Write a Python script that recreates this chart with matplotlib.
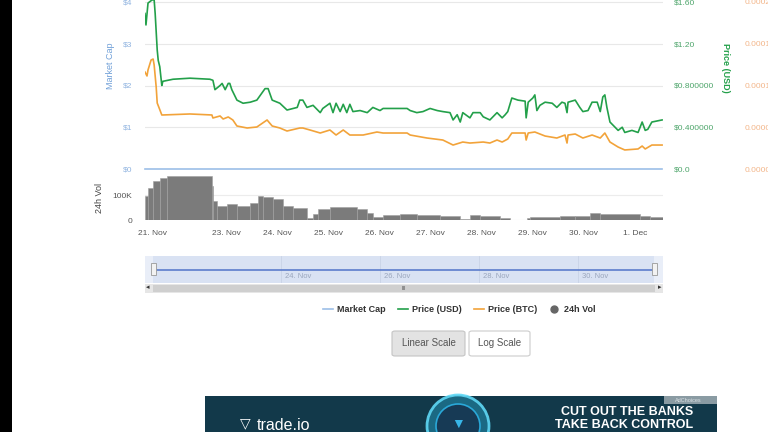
import numpy as np
import matplotlib
matplotlib.use("Agg")
import matplotlib.pyplot as plt
from matplotlib.lines import Line2D
from matplotlib.patches import Rectangle, FancyBboxPatch, Ellipse

plt.rcParams['font.family'] = ['Liberation Sans', 'DejaVu Sans']

W, H = 768, 432

# time in days after 21 Nov 00:00
usd_days = [0.41, 0.43, 0.47, 0.55, 0.59, 0.61, 0.65, 0.67, 0.70, 0.74, 0.76, 0.96, 1.29, 1.68,
            1.74, 1.78, 1.88, 1.92, 1.98, 2.04, 2.07, 2.11, 2.21, 2.33, 2.47, 2.60, 2.76, 2.82,
            2.90, 3.05, 3.19, 3.39, 3.44, 3.50, 3.58, 3.70, 3.84, 3.89, 4.03, 4.09, 4.15, 4.23,
            4.29, 4.36, 4.42, 4.48, 4.62, 4.76, 4.87, 5.01, 5.07, 5.30, 5.54, 5.60, 5.73, 5.85,
            5.99, 6.13, 6.24, 6.38, 6.44, 6.52, 6.58, 6.63, 6.77, 6.83, 6.97, 7.03, 7.16, 7.20,
            7.30, 7.40, 7.46, 7.51, 7.59, 7.71, 7.85, 7.87, 7.91, 8.00, 8.04, 8.08, 8.14, 8.24,
            8.38, 8.47, 8.57, 8.63, 8.67, 8.69, 8.83, 8.92, 8.98, 9.08, 9.16, 9.26, 9.32, 9.37,
            9.41, 9.45, 9.51, 9.57, 9.67, 9.75, 9.80, 9.94, 10.06, 10.14, 10.20, 10.25, 10.33, 10.53]
usd_price = [1.49, 1.38, 1.59, 1.62, 1.62, 1.49, 1.14, 1.04, 0.98, 0.80, 0.84, 0.86, 0.87, 0.86,
             0.85, 0.76, 0.80, 0.82, 0.76, 0.82, 0.82, 0.76, 0.66, 0.63, 0.64, 0.66, 0.77, 0.77,
             0.66, 0.63, 0.565, 0.59, 0.66, 0.66, 0.59, 0.61, 0.54, 0.58, 0.63, 0.54, 0.63, 0.55,
             0.62, 0.54, 0.62, 0.55, 0.56, 0.54, 0.59, 0.56, 0.58, 0.58, 0.58, 0.56, 0.54, 0.55,
             0.58, 0.56, 0.55, 0.54, 0.47, 0.52, 0.45, 0.54, 0.49, 0.54, 0.54, 0.50, 0.47, 0.49,
             0.54, 0.49, 0.52, 0.55, 0.68, 0.66, 0.65, 0.49, 0.64, 0.68, 0.71, 0.56, 0.61, 0.64,
             0.63, 0.59, 0.64, 0.63, 0.54, 0.64, 0.66, 0.59, 0.55, 0.56, 0.64, 0.64, 0.55, 0.69,
             0.71, 0.59, 0.45, 0.42, 0.37, 0.40, 0.35, 0.37, 0.35, 0.45, 0.37, 0.38, 0.45, 0.47]

btc_days = [0.41, 0.45, 0.47, 0.53, 0.57, 0.59, 0.63, 0.65, 0.68, 0.74, 0.76, 1.29, 1.72, 1.74,
            1.88, 1.94, 2.04, 2.13, 2.21, 2.41, 2.60, 2.80, 2.90, 3.05, 3.19, 3.44, 3.50, 3.64,
            3.84, 4.03, 4.15, 4.29, 4.42, 4.68, 4.95, 5.07, 5.54, 5.60, 5.93, 6.24, 6.44, 6.63,
            6.77, 7.03, 7.16, 7.30, 7.40, 7.51, 7.59, 7.85, 7.87, 7.91, 8.04, 8.24, 8.47, 8.63,
            8.67, 8.69, 8.83, 8.98, 9.16, 9.32, 9.41, 9.51, 9.67, 9.80, 10.06, 10.14, 10.20,
            10.33, 10.53]
btc_price = [0.0001162, 0.0001114, 0.0001186, 0.0001305, 0.0001317, 0.0001246, 0.0000982,
             0.0000790, 0.0000743, 0.0000647, 0.0000647, 0.0000659, 0.0000647, 0.0000611,
             0.0000635, 0.0000599, 0.0000623, 0.0000587, 0.0000515, 0.0000491, 0.0000503,
             0.0000587, 0.0000515, 0.0000491, 0.0000455, 0.0000491, 0.0000491, 0.0000467,
             0.0000431, 0.0000467, 0.0000407, 0.0000467, 0.0000407, 0.0000407, 0.0000443,
             0.0000431, 0.0000431, 0.0000407, 0.0000371, 0.0000347, 0.0000287, 0.0000323,
             0.0000311, 0.0000323, 0.0000311, 0.0000347, 0.0000323, 0.0000359, 0.0000431,
             0.0000431, 0.0000347, 0.0000431, 0.0000443, 0.0000395, 0.0000371, 0.0000407,
             0.0000311, 0.0000407, 0.0000419, 0.0000371, 0.0000407, 0.0000371, 0.0000431,
             0.0000323, 0.0000263, 0.0000228, 0.0000240, 0.0000275, 0.0000240, 0.0000287,
             0.0000287]

mcap_days = [0.41, 10.53]
mcap_values = [0, 0]

# volume steps: bar i spans vol_edges[i]..vol_edges[i+1]
vol_edges = [0.41, 0.47, 0.57, 0.70, 0.84, 1.72, 1.74, 1.82, 2.02, 2.21, 2.47, 2.62, 2.72, 2.92,
             3.11, 3.31, 3.58, 3.70, 3.80, 4.03, 4.56, 4.76, 4.87, 5.07, 5.40, 5.73, 6.18, 6.58,
             6.77, 6.97, 7.36, 7.55, 7.89, 7.95, 8.53, 8.83, 9.12, 9.32, 10.10, 10.29, 10.55]
vol_k = [96, 128, 156, 168, 176, 136, 76, 56, 64, 56, 68, 96, 92, 84, 56, 48, 8, 24, 44, 52,
         44, 28, 13, 20, 24, 20, 16, 4, 20, 18, 8, 2, 10, 12, 16, 16, 28, 26, 16, 14]

day_ticks = [0.55, 2, 3, 4, 5, 6, 7, 8, 9, 10]
day_labels = ['21. Nov', '23. Nov', '24. Nov', '25. Nov', '26. Nov', '27. Nov', '28. Nov',
              '29. Nov', '30. Nov', '1. Dec']
mcap_ticks = [0, 1, 2, 3, 4]
mcap_labels = ['$0', '$1', '$2', '$3', '$4']
usd_ticks = [0, 0.4, 0.8, 1.2, 1.6]
usd_labels = ['$0.0', '$0.400000', '$0.800000', '$1.20', '$1.60']
btc_ticks = [0, 0.00005, 0.0001, 0.00015, 0.0002]
btc_labels = ['0.000000', '0.000050', '0.000100', '0.000150', '0.000200']
nav_ticks = [3, 5, 7, 9]
nav_labels = ['24. Nov', '26. Nov', '28. Nov', '30. Nov']

GREEN = '#23a04a'
ORANGE = '#f2a33a'
BLUE = '#9cbfe8'
GRAY = '#7b7b7b'


def frect(x0, y0, x1, y1):
    return [x0 / W, 1 - y1 / H, (x1 - x0) / W, (y1 - y0) / H]


fig = plt.figure(figsize=(7.68, 4.32), dpi=100)
fig.patch.set_facecolor('white')

x_lim = (0.411, 10.548)
scale = 169 / 167

# main pane
ax = fig.add_axes(frect(145, 0, 663, 169))
ax.set_xlim(x_lim)
ax.set_ylim(0, 4 * scale)
ax.set_yticks(mcap_ticks)
ax.set_yticklabels(mcap_labels)
ax.tick_params(axis='y', length=0, pad=9, labelsize=6, labelcolor='#8fb3e0')
ax.set_xticks([])
ax.grid(axis='y', color='#e8e8e8', linewidth=0.8)
for s in ax.spines.values():
    s.set_visible(False)
ax.set_ylabel('Market Cap', color='#6f9fd8', fontsize=6.5)
ax.yaxis.set_label_coords(-0.058, 0.61)
mcap_line, = ax.plot(mcap_days, mcap_values, color=BLUE, linewidth=1.2, clip_on=False)

ax_usd = ax.twinx()
ax_usd.set_ylim(0, 1.6 * scale)
ax_usd.set_yticks(usd_ticks)
ax_usd.set_yticklabels(usd_labels)
ax_usd.tick_params(axis='y', length=0, pad=8, labelsize=6, labelcolor='#4da56a')
ax_usd.set_ylabel('Price (USD)', color=GREEN, fontsize=6.5, fontweight='bold', rotation=270)
ax_usd.yaxis.set_label_coords(1.129, 0.60)
for s in ax_usd.spines.values():
    s.set_visible(False)

ax_btc = ax.twinx()
ax_btc.set_ylim(0, 0.0002 * scale)
ax_btc.set_yticks(btc_ticks)
ax_btc.set_yticklabels(btc_labels)
ax_btc.tick_params(axis='y', length=0, pad=59, labelsize=6, labelcolor='#f3b68a')
for s in ax_btc.spines.values():
    s.set_visible(False)

btc_line, = ax_btc.plot(btc_days, btc_price, color=ORANGE, linewidth=1.2)
usd_line, = ax_usd.plot(usd_days, usd_price, color=GREEN, linewidth=1.2)

# volume pane
axv = fig.add_axes(frect(145, 172, 663, 220))
axv.set_xlim(x_lim)
axv.set_ylim(0, 192000)
axv.bar(vol_edges[:-1], [v * 1000 for v in vol_k], width=np.diff(vol_edges), align='edge',
        color=GRAY, edgecolor='#a0a0a0', linewidth=0.4)
axv.set_yticks([0, 100000])
axv.set_yticklabels(['0', '100K'])
axv.tick_params(axis='y', length=0, pad=9, labelsize=6, labelcolor='#555555')
axv.set_xticks(day_ticks)
axv.set_xticklabels(day_labels)
axv.tick_params(axis='x', length=0, pad=7, labelsize=6, labelcolor='#555555')
axv.grid(axis='y', color='#ececec', linewidth=0.8)
axv.set_axisbelow(True)
for s in axv.spines.values():
    s.set_visible(False)
axv.set_ylabel('24h Vol', color='#444444', fontsize=6.5)
axv.yaxis.set_label_coords(-0.079, 0.45)

# navigator
fig.patches.append(Rectangle((145 / W, 1 - 283 / H), 518 / W, 27 / H, transform=fig.transFigure,
                             facecolor='#e9eef8', edgecolor='none', zorder=-1))
axn = fig.add_axes(frect(153, 256, 654, 283))
axn.set_xlim(mcap_days[0], mcap_days[-1])
axn.set_ylim(-1, 1)
axn.set_facecolor('#d9e2f3')
axn.plot(mcap_days, mcap_values, color='#5b7ccc', linewidth=1.2)
axn.set_yticks([])
axn.set_xticks(nav_ticks)
axn.set_xticklabels([])
axn.grid(axis='x', color='#c9d3e6', linewidth=0.6)
for t, lab in zip(nav_ticks, nav_labels):
    axn.text(t + 0.08, -0.5, lab, fontsize=5.5, color='#9aa6bd', va='center', ha='left')
axn.tick_params(length=0)
for s in axn.spines.values():
    s.set_visible(False)
for hx in (153, 654):
    fig.patches.append(Rectangle(((hx - 2.5) / W, 1 - 275 / H), 5 / W, 12 / H,
                                 transform=fig.transFigure, facecolor='#f2f2f2',
                                 edgecolor='#999999', linewidth=0.6, zorder=5))

# scrollbar
fig.patches.append(Rectangle((145 / W, 1 - 293 / H), 518 / W, 9 / H, transform=fig.transFigure,
                             facecolor='#e6e6e6', edgecolor='none'))
fig.patches.append(Rectangle((153 / W, 1 - 292 / H), 502 / W, 7 / H, transform=fig.transFigure,
                             facecolor='#cfcfcf', edgecolor='none'))
fig.text(148 / W, 1 - 288 / H, '\u25c2', fontsize=5, color='#333333', ha='center', va='center')
fig.text(660 / W, 1 - 288 / H, '\u25b8', fontsize=5, color='#333333', ha='center', va='center')
fig.text(404 / W, 1 - 288.5 / H, 'III', fontsize=4, color='#555555', ha='center', va='center')

# legend
vol_handle = Line2D([], [], marker='o', linestyle='none', markersize=5, color='#666666')
fig.legend([mcap_line, usd_line, btc_line, vol_handle],
           ['Market Cap', 'Price (USD)', 'Price (BTC)', '24h Vol'],
           loc='center', bbox_to_anchor=(459 / W, 1 - 310 / H), ncol=4, frameon=False,
           prop={'size': 6.5, 'weight': 'bold'}, handlelength=1.1, handletextpad=0.5,
           columnspacing=1.3, labelcolor='#333333')

# scale buttons
fig.patches.append(FancyBboxPatch((392 / W, 1 - 356 / H), 73 / W, 25 / H,
                                  boxstyle='round,pad=0,rounding_size=0.004',
                                  transform=fig.transFigure, facecolor='#e3e3e3',
                                  edgecolor='#c4c4c4', linewidth=0.8))
fig.patches.append(FancyBboxPatch((469 / W, 1 - 356 / H), 61 / W, 25 / H,
                                  boxstyle='round,pad=0,rounding_size=0.004',
                                  transform=fig.transFigure, facecolor='white',
                                  edgecolor='#cccccc', linewidth=0.8))
fig.text(428.5 / W, 1 - 343.5 / H, 'Linear Scale', fontsize=7, color='#555555',
         ha='center', va='center')
fig.text(499.5 / W, 1 - 343.5 / H, 'Log Scale', fontsize=7, color='#555555',
         ha='center', va='center')

# ad banner
fig.patches.append(Rectangle((205 / W, 0), 512 / W, 36 / H, transform=fig.transFigure,
                             facecolor='#12394a', edgecolor='none'))
fig.patches.append(Ellipse((458 / W, 1 - 426 / H), 62 / W, 62 / H, transform=fig.transFigure,
                           facecolor='#1d6f8a', edgecolor='#5fd8f5', linewidth=2, alpha=0.9))
fig.patches.append(Ellipse((458 / W, 1 - 426 / H), 44 / W, 44 / H, transform=fig.transFigure,
                           facecolor='#173a55', edgecolor='#2aa8d8', linewidth=1.2))
fig.text(458 / W, 1 - 424 / H, '\u25bc', fontsize=10, color='#38b6e8', ha='center', va='center')
fig.text(245 / W, 1 - 423 / H, '\u25bd', fontsize=10, color='white', ha='center', va='center')
fig.text(257 / W, 1 - 425 / H, 'trade.io', fontsize=11.5, color='white', ha='left', va='center')
fig.text(693 / W, 1 - 412 / H, 'CUT OUT THE BANKS', fontsize=9, color='white',
         fontweight='bold', ha='right', va='center')
fig.text(693 / W, 1 - 425 / H, 'TAKE BACK CONTROL', fontsize=9, color='white',
         fontweight='bold', ha='right', va='center')
fig.patches.append(Rectangle((664 / W, 1 - 404 / H), 53 / W, 8 / H, transform=fig.transFigure,
                             facecolor='#8a9ba3', edgecolor='none'))
fig.text(688 / W, 1 - 400 / H, 'AdChoices', fontsize=4, color='#d8e0e4', ha='center', va='center')

# dark strip on the left edge
fig.patches.append(Rectangle((0, 0), 12 / W, 1, transform=fig.transFigure,
                             facecolor='black', edgecolor='none'))

fig.savefig('out.png', dpi=100)
